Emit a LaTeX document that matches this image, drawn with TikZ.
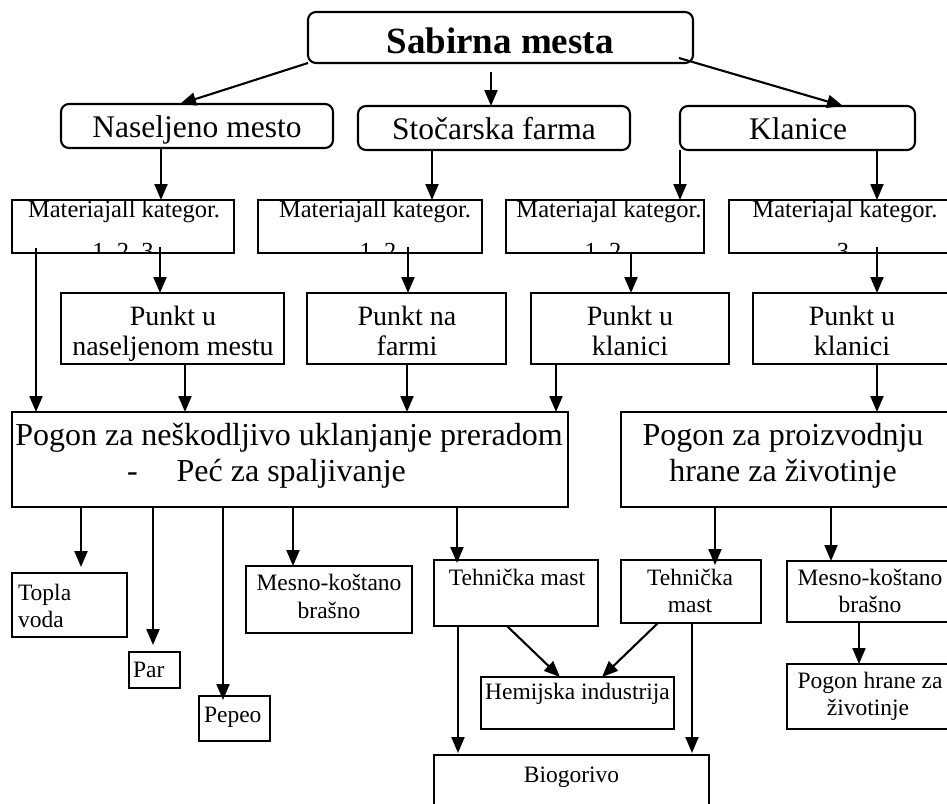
\documentclass[tikz,border=0pt]{standalone}
\usepackage{fontspec}
\setmainfont{Liberation Serif}
\usetikzlibrary{arrows.meta}
\begin{document}
\begin{tikzpicture}[x=1pt,y=-1pt,
  box/.style={draw, line width=2.1pt, inner sep=0pt, outer sep=0pt},
  rbox/.style={box, rounded corners=8pt},
  arr/.style={line width=2.1pt, -{Triangle[length=16pt,width=13pt]}},
  t/.style={anchor=base, inner sep=0pt, outer sep=0pt},
  tw/.style={anchor=base west, inner sep=0pt, outer sep=0pt},
  fT/.style={font=\fontsize{37}{40}\selectfont\bfseries},
  fL/.style={font=\fontsize{31.5}{34}\selectfont},
  fM/.style={font=\fontsize{24.5}{27}\selectfont},
  fP/.style={font=\fontsize{28}{30}\selectfont},
  fG/.style={font=\fontsize{32}{35}\selectfont},
  fS/.style={font=\fontsize{23.5}{26}\selectfont}]
\useasboundingbox (0,0) rectangle (947,803);
\clip (0,0) rectangle (947,803);
% boxes
\node[rbox, minimum width=385pt, minimum height=51pt] (sab) at (500.5,37.5) {};
\node[rbox, minimum width=272pt, minimum height=44pt] (nas) at (197,126) {};
\node[rbox, minimum width=272pt, minimum height=44pt] (sto) at (494,128) {};
\node[rbox, minimum width=235pt, minimum height=44pt] (kla) at (797.5,128) {};
\node[box, minimum width=222pt, minimum height=53pt] (mat1) at (123,226.5) {};
\node[box, minimum width=224pt, minimum height=53pt] (mat2) at (370,226.5) {};
\node[box, minimum width=198pt, minimum height=53pt] (mat3) at (605,226.5) {};
\node[box, minimum width=236pt, minimum height=53pt] (mat4) at (847,226.5) {};
\node[box, minimum width=223pt, minimum height=71pt] (pun1) at (172.5,328.5) {};
\node[box, minimum width=199pt, minimum height=71pt] (pun2) at (406.5,328.5) {};
\node[box, minimum width=198pt, minimum height=71pt] (pun3) at (630,328.5) {};
\node[box, minimum width=207pt, minimum height=71pt] (pun4) at (856.5,328.5) {};
\node[box, minimum width=556pt, minimum height=95pt] (pog1) at (290,459.5) {};
\node[box, minimum width=339pt, minimum height=95pt] (pog2) at (790.5,459.5) {};
\node[box, minimum width=115pt, minimum height=64pt] (top) at (69.5,605) {};
\node[box, minimum width=51pt, minimum height=36pt] (par) at (154.5,670) {};
\node[box, minimum width=71pt, minimum height=45pt] (pep) at (234.5,718.5) {};
\node[box, minimum width=166pt, minimum height=67pt] (mes1) at (329,599.5) {};
\node[box, minimum width=164pt, minimum height=66pt] (teh1) at (516,593) {};
\node[box, minimum width=140pt, minimum height=63pt] (teh2) at (691,591.5) {};
\node[box, minimum width=173pt, minimum height=61pt] (mes2) at (873.5,591.5) {};
\node[box, minimum width=193pt, minimum height=52pt] (hem) at (577.5,703) {};
\node[box, minimum width=173pt, minimum height=65pt] (phr) at (873.5,696.5) {};
\node[box, minimum width=275pt, minimum height=85pt] (bio) at (571.5,797.5) {};
% texts
\node[t,fT] (tsab) at (500,53) {Sabirna mesta};
\node[t,fL] (tnas) at (197,137) {Naseljeno mesto};
\node[t,fL] (tsto) at (494,139) {Stočarska farma};
\node[t,fL] (tkla) at (798,139) {Klanice};
\begin{scope}
\clip (mat1.south west) rectangle (mat1.north east);
\node[t,fM] (tm1a) at (124,217) {Materiajall kategor.};
\node[t,fM] (tm1b) at (123,259) {1, 2, 3};
\end{scope}
\begin{scope}
\clip (mat2.south west) rectangle (mat2.north east);
\node[t,fM] (tm2a) at (375,217) {Materiajall kategor.};
\node[t,fM] (tm2b) at (378,259) {1, 2};
\end{scope}
\begin{scope}
\clip (mat3.south west) rectangle (mat3.north east);
\node[t,fM] (tm3a) at (609,217) {Materiajal kategor.};
\node[t,fM] (tm3b) at (603,259) {1, 2};
\end{scope}
\begin{scope}
\clip (mat4.south west) rectangle (mat4.north east);
\node[t,fM] (tm4a) at (845,217) {Materiajal kategor.};
\node[t,fM] (tm4b) at (843,259) {3};
\end{scope}
\node[t,fP] (tp1a) at (173,325) {Punkt u};
\node[t,fP] (tp1b) at (173,355) {naseljenom mestu};
\node[t,fP] (tp2a) at (407,325) {Punkt na};
\node[t,fP] (tp2b) at (407,355) {farmi};
\node[t,fP] (tp3a) at (630,325) {Punkt u};
\node[t,fP] (tp3b) at (630,355) {klanici};
\node[t,fP] (tp4a) at (852,325) {Punkt u};
\node[t,fP] (tp4b) at (852,355) {klanici};
\node[t,fG] (tg1a) at (289,445) {Pogon za neškodljivo uklanjanje preradom};
\node[tw,fG] (tg1b) at (127,481) {-\hspace{39pt}Peć za spaljivanje};
\node[t,fG] (tg2a) at (783,445) {Pogon za proizvodnju};
\node[t,fG] (tg2b) at (783,481) {hrane za životinje};
\node[tw,fS] (tta) at (18,600) {Topla};
\node[tw,fS] (ttb) at (18,627) {voda};
\node[tw,fS] (tpar) at (133,677) {Par};
\node[tw,fS] (tpep) at (204,722) {Pepeo};
\node[t,fS] (tme1a) at (329,590) {Mesno-koštano};
\node[t,fS] (tme1b) at (329,618) {brašno};
\node[t,fS] (tte1) at (517,585) {Tehnička mast};
\node[t,fS] (tte2a) at (690,585) {Tehnička};
\node[t,fS] (tte2b) at (690,612) {mast};
\node[t,fS] (tme2a) at (870,585) {Mesno-koštano};
\node[t,fS] (tme2b) at (870,612) {brašno};
\node[t,fS] (tphra) at (870,688) {Pogon hrane za};
\node[t,fS] (tphrb) at (868,715) {životinje};
\node[t,fS] (them) at (577.5,699) {Hemijska industrija};
\node[t,fS] (tbio) at (571.5,782) {Biogorivo};
% connectors
\draw[arr] (sab.south west) -- ([xshift=-17pt]nas.north);
\draw[arr] ([xshift=-9.5pt,yshift=-9pt]sab.south) -- ([xshift=-3pt]sto.north);
\draw[arr] ([xshift=-14pt,yshift=5pt]sab.south east) -- ([xshift=45.5pt]kla.north);
\draw[arr] ([xshift=-36pt]nas.south) -- ([xshift=38pt]mat1.north);
\draw[arr] ([xshift=-62pt]sto.south) -- ([xshift=62pt]mat2.north);
\draw[arr] (kla.south west) -- ([xshift=75pt]mat3.north);
\draw[arr] ([xshift=79.5pt]kla.south) -- ([xshift=30pt]mat4.north);
\draw[arr] ([xshift=37pt,yshift=6pt]mat1.south) -- ([xshift=-12.5pt]pun1.north);
\draw[arr] ([xshift=38pt,yshift=6pt]mat2.south) -- ([xshift=1.5pt]pun2.north);
\draw[arr] ([xshift=26pt]mat3.south) -- ([xshift=1pt]pun3.north);
\draw[arr] ([xshift=30pt,yshift=6pt]mat4.south) -- ([xshift=20.5pt]pun4.north);
\draw[arr] ([xshift=24pt,yshift=5pt]mat1.south west) -- ([xshift=24pt]pog1.north west);
\draw[arr] ([xshift=12.5pt]pun1.south) -- ([xshift=173pt]pog1.north west);
\draw[arr] ([xshift=0.5pt]pun2.south) -- ([xshift=395pt]pog1.north west);
\draw[arr] ([xshift=-74pt]pun3.south) -- ([xshift=544pt]pog1.north west);
\draw[arr] ([xshift=20.5pt]pun4.south) -- ([xshift=86.5pt]pog2.north);
\draw[arr] ([xshift=69pt]pog1.south west) -- ([xshift=11.5pt,yshift=6pt]top.north);
\draw[arr] ([xshift=141pt]pog1.south west) -- ([xshift=-1.5pt,yshift=7pt]par.north);
\draw[arr] ([xshift=211pt]pog1.south west) -- ([xshift=-11.5pt,yshift=-4pt]pep.north);
\draw[arr] ([xshift=281pt]pog1.south west) -- ([xshift=-36pt]mes1.north);
\draw[arr] ([xshift=445pt]pog1.south west) -- ([xshift=-59pt,yshift=-3pt]teh1.north);
\draw[arr] ([xshift=94pt]pog2.south west) -- ([xshift=24pt,yshift=-5pt]teh2.north);
\draw[arr] ([xshift=210pt]pog2.south west) -- ([xshift=-42.5pt]mes2.north);
\draw[arr] ([xshift=-14.5pt]mes2.south) -- ([xshift=-14.5pt]phr.north);
\draw[arr] ([xshift=24pt]teh1.south west) -- ([xshift=24pt,yshift=2pt]bio.north west);
\draw[arr] ([xshift=-9pt]teh1.south) -- ([xshift=-17.5pt]hem.north);
\draw[arr] ([xshift=-33pt]teh2.south) -- ([xshift=24.5pt]hem.north);
\draw[arr] ([xshift=1pt]teh2.south) -- ([xshift=258pt,yshift=2pt]bio.north west);
\end{tikzpicture}
\end{document}
